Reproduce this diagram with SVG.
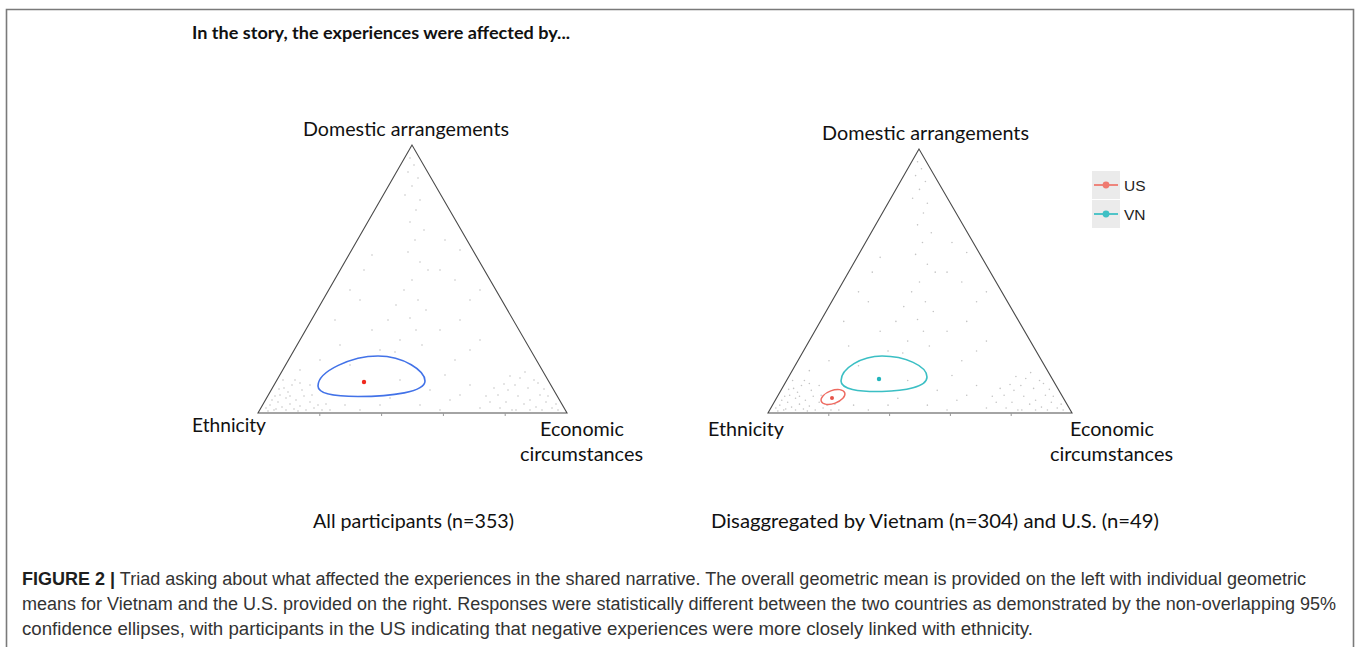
<svg xmlns="http://www.w3.org/2000/svg" xmlns:xlink="http://www.w3.org/1999/xlink" width="1357" height="647" viewBox="0 0 1357 647">
<style>
.lbl{font-family:Lato,"Open Sans","Liberation Sans",sans-serif;font-size:20px;fill:#111}
.ttl{font-family:Lato,"Open Sans","Liberation Sans",sans-serif;font-size:16.5px;font-weight:bold;fill:#111}
.tri{fill:none;stroke:#4a4a4a;stroke-width:1.1}
.tick{stroke:#999;stroke-width:1}
.pt{fill:#c4c4c4}
.leg{font-family:"Liberation Sans",Arial,sans-serif;font-size:15.5px;fill:#222}
.cap{font-family:"Liberation Sans",Arial,sans-serif;font-size:18px;fill:#333}
.capb{font-weight:bold;fill:#1e1e1e}
</style>
<defs>
<g id="pts" class="pt">
<circle cx="266" cy="408" r="0.8"/><circle cx="270" cy="405" r="0.8"/><circle cx="274" cy="410" r="0.8"/><circle cx="278" cy="402" r="0.8"/><circle cx="282" cy="407" r="0.8"/><circle cx="286" cy="398" r="0.8"/><circle cx="290" cy="404" r="0.8"/><circle cx="294" cy="409" r="0.8"/><circle cx="272" cy="400" r="0.8"/><circle cx="280" cy="395" r="0.8"/><circle cx="288" cy="392" r="0.8"/><circle cx="296" cy="400" r="0.8"/><circle cx="300" cy="406" r="0.8"/><circle cx="304" cy="396" r="0.8"/><circle cx="284" cy="388" r="0.8"/><circle cx="292" cy="385" r="0.8"/><circle cx="276" cy="409" r="0.8"/><circle cx="268" cy="411" r="0.8"/><circle cx="298" cy="411" r="0.8"/><circle cx="306" cy="410" r="0.8"/><circle cx="310" cy="402" r="0.8"/><circle cx="314" cy="408" r="0.8"/><circle cx="290" cy="396" r="0.8"/><circle cx="302" cy="390" r="0.8"/><circle cx="318" cy="405" r="0.8"/><circle cx="322" cy="410" r="0.8"/><circle cx="286" cy="410" r="0.8"/><circle cx="279" cy="389" r="0.8"/><circle cx="295" cy="380" r="0.8"/><circle cx="300" cy="383" r="0.8"/><circle cx="283" cy="380" r="0.8"/><circle cx="312" cy="395" r="0.8"/><circle cx="326" cy="404" r="0.8"/><circle cx="330" cy="410" r="0.8"/><circle cx="275" cy="396" r="0.8"/>
<circle cx="500" cy="408" r="0.8"/><circle cx="506" cy="402" r="0.8"/><circle cx="512" cy="410" r="0.8"/><circle cx="518" cy="396" r="0.8"/><circle cx="524" cy="404" r="0.8"/><circle cx="530" cy="400" r="0.8"/><circle cx="536" cy="407" r="0.8"/><circle cx="540" cy="395" r="0.8"/><circle cx="546" cy="402" r="0.8"/><circle cx="552" cy="408" r="0.8"/><circle cx="556" cy="404" r="0.8"/><circle cx="508" cy="390" r="0.8"/><circle cx="515" cy="385" r="0.8"/><circle cx="528" cy="388" r="0.8"/><circle cx="534" cy="380" r="0.8"/><circle cx="520" cy="378" r="0.8"/><circle cx="544" cy="389" r="0.8"/><circle cx="498" cy="395" r="0.8"/><circle cx="490" cy="402" r="0.8"/><circle cx="480" cy="408" r="0.8"/><circle cx="486" cy="396" r="0.8"/><circle cx="510" cy="376" r="0.8"/><circle cx="525" cy="372" r="0.8"/><circle cx="538" cy="383" r="0.8"/><circle cx="548" cy="396" r="0.8"/><circle cx="504" cy="384" r="0.8"/><circle cx="494" cy="388" r="0.8"/><circle cx="530" cy="410" r="0.8"/><circle cx="516" cy="410" r="0.8"/><circle cx="542" cy="410" r="0.8"/><circle cx="558" cy="410" r="0.8"/>
<circle cx="410" cy="158" r="0.8"/><circle cx="414" cy="165" r="0.8"/><circle cx="408" cy="172" r="0.8"/><circle cx="418" cy="178" r="0.8"/><circle cx="412" cy="186" r="0.8"/><circle cx="405" cy="195" r="0.8"/><circle cx="420" cy="200" r="0.8"/><circle cx="416" cy="210" r="0.8"/><circle cx="410" cy="222" r="0.8"/><circle cx="424" cy="230" r="0.8"/><circle cx="415" cy="240" r="0.8"/><circle cx="408" cy="252" r="0.8"/><circle cx="420" cy="262" r="0.8"/><circle cx="428" cy="270" r="0.8"/><circle cx="412" cy="280" r="0.8"/><circle cx="404" cy="290" r="0.8"/><circle cx="418" cy="300" r="0.8"/><circle cx="426" cy="310" r="0.8"/><circle cx="410" cy="318" r="0.8"/><circle cx="416" cy="330" r="0.8"/><circle cx="400" cy="340" r="0.8"/><circle cx="422" cy="345" r="0.8"/><circle cx="395" cy="352" r="0.8"/>
<circle cx="360" cy="300" r="0.8"/><circle cx="372" cy="330" r="0.8"/><circle cx="340" cy="345" r="0.8"/><circle cx="320" cy="360" r="0.8"/><circle cx="350" cy="365" r="0.8"/><circle cx="380" cy="350" r="0.8"/><circle cx="440" cy="330" r="0.8"/><circle cx="460" cy="320" r="0.8"/><circle cx="470" cy="350" r="0.8"/><circle cx="480" cy="340" r="0.8"/><circle cx="455" cy="360" r="0.8"/><circle cx="445" cy="375" r="0.8"/><circle cx="430" cy="390" r="0.8"/><circle cx="460" cy="395" r="0.8"/><circle cx="400" cy="380" r="0.8"/><circle cx="390" cy="398" r="0.8"/><circle cx="345" cy="405" r="0.8"/><circle cx="360" cy="410" r="0.8"/><circle cx="380" cy="405" r="0.8"/><circle cx="420" cy="405" r="0.8"/><circle cx="440" cy="410" r="0.8"/><circle cx="450" cy="400" r="0.8"/><circle cx="470" cy="385" r="0.8"/><circle cx="335" cy="320" r="0.8"/><circle cx="300" cy="370" r="0.8"/><circle cx="310" cy="385" r="0.8"/><circle cx="388" cy="320" r="0.8"/><circle cx="396" cy="305" r="0.8"/><circle cx="470" cy="300" r="0.8"/><circle cx="480" cy="290" r="0.8"/><circle cx="455" cy="280" r="0.8"/><circle cx="440" cy="270" r="0.8"/><circle cx="364" cy="270" r="0.8"/><circle cx="350" cy="290" r="0.8"/><circle cx="460" cy="250" r="0.8"/><circle cx="445" cy="240" r="0.8"/><circle cx="372" cy="255" r="0.8"/>
</g>
</defs>

<rect x="0" y="0" width="1357" height="647" fill="#fff"/>
<g id="frame"><path d="M6.5,650 V9.5 H1353.5 V650" fill="none" stroke="#7a7a7a" stroke-width="1.6"/></g>

<g id="title"><text class="ttl" x="192" y="38.5" textLength="378" lengthAdjust="spacingAndGlyphs">In the story, the experiences were affected by...</text></g>

<g id="left-triad">
<use href="#pts" xlink:href="#pts"/>
<path class="tri" d="M412,145 L258,413 L567,413 Z"/>
<path class="tick" d="M319.8,413 v3 M381.6,413 v3 M443.4,413 v3 M505.2,413 v3"/>
</g>
<g id="left-ellipse">
<path d="M318,386 C318,371 352,356 378,356 C404,356 425,371 425,381 C425,392 392,396.5 358,396.5 C330,396.5 318,393 318,386 Z" fill="none" stroke="#4272e8" stroke-width="1.6"/>
<circle cx="364" cy="382" r="2.2" fill="#f0291e"/>
</g>
<g id="left-top-label"><text class="lbl" x="303" y="136" textLength="206" lengthAdjust="spacingAndGlyphs">Domestic arrangements</text></g>
<g id="left-ethnicity"><text class="lbl" x="192" y="432" textLength="74" lengthAdjust="spacingAndGlyphs">Ethnicity</text></g>
<g id="left-economic"><text class="lbl" x="540" y="436" textLength="84" lengthAdjust="spacingAndGlyphs">Economic</text><text class="lbl" x="520" y="461" textLength="123" lengthAdjust="spacingAndGlyphs">circumstances</text></g>
<g id="left-caption"><text class="lbl" x="313" y="528" textLength="201" lengthAdjust="spacingAndGlyphs">All participants (n=353)</text></g>

<g id="right-triad">
<use href="#pts" xlink:href="#pts" transform="translate(768,149) scale(0.9838,0.9851) translate(-258,-145)"/>
<path class="tri" d="M919,149 L768,413 L1072,413 Z"/>
<path class="tick" d="M828.8,413 v3 M889.6,413 v3 M950.4,413 v3 M1011.2,413 v3"/>
</g>
<g id="vn-ellipse">
<path d="M841,381 C841,368 862,356 882,356 C905,356 927,366 927,377 C927,387 905,391 882,391.5 C858,392 841,389 841,381 Z" fill="none" stroke="#3bbfc4" stroke-width="1.6"/>
<circle cx="879" cy="379" r="2.2" fill="#22b5bc"/>
</g>
<g id="us-ellipse">
<ellipse cx="833" cy="397" rx="12.5" ry="6.5" transform="rotate(-20 833 397)" fill="none" stroke="#ee6a60" stroke-width="1.4"/>
<circle cx="832" cy="398" r="2" fill="#e5544a"/>
</g>
<g id="right-top-label"><text class="lbl" x="822" y="140" textLength="207" lengthAdjust="spacingAndGlyphs">Domestic arrangements</text></g>
<g id="right-ethnicity"><text class="lbl" x="708" y="436" textLength="76" lengthAdjust="spacingAndGlyphs">Ethnicity</text></g>
<g id="right-economic"><text class="lbl" x="1070" y="436" textLength="84" lengthAdjust="spacingAndGlyphs">Economic</text><text class="lbl" x="1050" y="461" textLength="123" lengthAdjust="spacingAndGlyphs">circumstances</text></g>
<g id="right-caption"><text class="lbl" x="711" y="528" textLength="448" lengthAdjust="spacingAndGlyphs">Disaggregated by Vietnam (n=304) and U.S. (n=49)</text></g>

<g id="legend">
<rect x="1092" y="171" width="28" height="28" fill="#ebebeb"/>
<rect x="1092" y="200" width="28" height="28" fill="#ebebeb"/>
<line x1="1094" y1="185" x2="1118" y2="185" stroke="#ef7a70" stroke-width="1.8"/>
<circle cx="1106" cy="185" r="3.4" fill="#ef7a70"/>
<line x1="1094" y1="214" x2="1118" y2="214" stroke="#3fc0c4" stroke-width="1.8"/>
<circle cx="1106" cy="214" r="3.4" fill="#3fc0c4"/>
<text class="leg" x="1124" y="191">US</text>
<text class="leg" x="1124" y="220">VN</text>
</g>

<g id="figure-caption">
<text class="cap" x="22" y="584.5" textLength="1284" lengthAdjust="spacingAndGlyphs"><tspan class="capb">FIGURE 2 |</tspan> Triad asking about what affected the experiences in the shared narrative. The overall geometric mean is provided on the left with individual geometric</text>
<text class="cap" x="22" y="609.5" textLength="1314" lengthAdjust="spacingAndGlyphs">means for Vietnam and the U.S. provided on the right. Responses were statistically different between the two countries as demonstrated by the non-overlapping 95%</text>
<text class="cap" x="22" y="634.5" textLength="1011" lengthAdjust="spacingAndGlyphs">confidence ellipses, with participants in the US indicating that negative experiences were more closely linked with ethnicity.</text>
</g>
</svg>
